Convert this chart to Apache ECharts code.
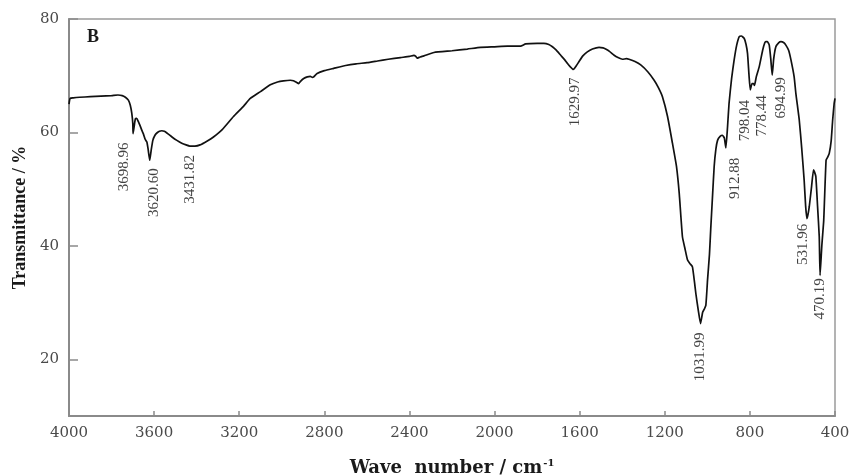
<!DOCTYPE html>
<html>
<head>
<meta charset="utf-8">
<script src="https://cdn.jsdelivr.net/npm/echarts@6/dist/echarts.min.js"></script>
<style>
  html, body { margin: 0; padding: 0; background: #ffffff; }
  #chart { width: 852px; height: 476px; }
</style>
</head>
<body>
<div id="chart"></div>
<script>
// FTIR spectrum, sample B: wave number (cm-1) against transmittance (%)
const wavenumber = [
  4000, 3995, 3980, 3950, 3900, 3850, 3800, 3770, 3750, 3735, 3721, 3712, 3705, 3700,
  3698.96, 3694, 3688, 3682, 3674, 3666, 3658, 3650, 3642, 3634, 3628, 3620.60, 3614,
  3606, 3596, 3587, 3575, 3564, 3552, 3540, 3516, 3493, 3470, 3450, 3431.82, 3408,
  3384, 3350, 3321, 3280, 3227, 3180, 3148, 3100, 3054, 3020, 2992, 2960, 2945, 2930,
  2921, 2912, 2897, 2880, 2866, 2856, 2850, 2834, 2800, 2756, 2700, 2650, 2599, 2550,
  2500, 2442, 2400, 2379, 2370, 2364, 2350, 2332, 2285, 2200, 2128, 2066, 2000, 1940,
  1878, 1854, 1800, 1768, 1745, 1728, 1710, 1689, 1670, 1658, 1645, 1629.97, 1615, 1603,
  1585, 1564, 1540, 1509, 1490, 1478, 1460, 1438, 1420, 1399, 1380, 1368, 1340, 1313,
  1280, 1250, 1230, 1211, 1187, 1164, 1145, 1132, 1117, 1105, 1093, 1080, 1070, 1060,
  1054, 1042, 1031.99, 1022, 1015, 1007, 999, 990, 984, 976, 968, 960, 952, 940, 929,
  920, 912.88, 905, 898, 886, 874, 862, 850, 840, 827, 818, 811, 804, 798.04, 790, 783,
  778.44, 770, 756, 740, 730, 725, 718, 709, 702, 694.99, 688, 678, 665, 654, 640, 631,
  618, 607, 592, 584, 568, 556, 545, 538, 531.96, 527, 521, 510, 501, 496, 490, 482,
  474, 470.19, 462, 453, 442, 435, 427, 418, 411, 404, 400
];
const transmittance = [
  65.0, 66.0, 66.1, 66.2, 66.3, 66.4, 66.5, 66.6, 66.5, 66.2, 65.7, 64.8, 63.4, 61.5,
  59.8, 61.0, 62.4, 62.5, 61.9, 61.2, 60.4, 59.7, 58.8, 58.3, 57.0, 55.1, 56.8,
  58.6, 59.5, 59.9, 60.2, 60.3, 60.2, 59.9, 59.2, 58.6, 58.1, 57.8, 57.6, 57.6,
  57.8, 58.5, 59.2, 60.5, 62.8, 64.6, 66.0, 67.2, 68.4, 68.9, 69.1, 69.2, 69.1, 68.8,
  68.6, 69.0, 69.5, 69.8, 69.9, 69.7, 69.8, 70.4, 70.9, 71.3, 71.8, 72.1, 72.3, 72.6,
  72.9, 73.2, 73.4, 73.6, 73.4, 73.1, 73.3, 73.5, 74.1, 74.4, 74.7, 75.0, 75.1, 75.2,
  75.2, 75.6, 75.7, 75.7, 75.5, 75.1, 74.5, 73.6, 72.8, 72.2, 71.6, 71.1, 71.8, 72.5,
  73.5, 74.2, 74.7, 75.0, 74.9, 74.7, 74.3, 73.6, 73.2, 72.9, 73.0, 72.9, 72.5, 71.9,
  70.7, 69.2, 67.9, 66.3, 62.8, 58.1, 54.0, 49.2, 41.6, 39.5, 37.5, 36.8, 36.3, 33.5,
  31.6, 28.5, 26.3, 28.3, 28.8, 29.5, 34.0, 38.5, 43.0, 48.5, 53.9, 57.0, 58.6, 59.3, 59.5,
  59.0, 57.3, 61.0, 65.1, 69.5, 72.8, 75.4, 76.9, 77.0, 76.6, 75.5, 73.9, 70.0, 67.5, 68.6, 68.6,
  68.3, 69.8, 71.6, 74.5, 75.8, 76.0, 76.0, 75.4, 73.0, 70.1, 73.0, 75.1, 75.8, 76.0, 75.8, 75.4,
  74.5, 72.8, 69.8, 66.9, 62.2, 57.0, 51.6, 47.0, 44.8, 45.5, 46.9, 50.5, 53.4, 53.0, 52.2, 47.0,
  41.6, 34.8, 40.0, 44.5, 55.1, 55.6, 56.3, 58.5, 62.2, 65.1, 66.0
];

// Assigned absorption bands (cm-1)
const peakWavenumbers = [3698.96, 3620.60, 3431.82, 1629.97, 1031.99, 912.88,
                         798.04, 778.44, 694.99, 531.96, 470.19];
// Where each band label sits relative to its minimum, in pixels [right, down]
const peakLabelShift = [[-9, 9], [4, 8], [0, 9], [2, 8], [0, 9], [9, 10],
                        [-5, 10], [8, 10], [9, 2], [-4, 5], [0, 3]];

const yTickValues = [20, 40, 60, 80];

const peakPoints = peakWavenumbers.map((w, i) => ({
  value: [w, transmittance[wavenumber.indexOf(w)]],
  label: {
    position: [peakLabelShift[i][0], peakLabelShift[i][1]]
  }
}));

const axisGray = '#8a8a8a';
const tickFont = 'DejaVu Serif';

const chart = echarts.init(document.getElementById('chart'), null, { renderer: 'canvas' });
chart.setOption({
  backgroundColor: '#ffffff',
  animation: false,
  title: {
    text: 'B',
    left: 87,
    top: 28,
    padding: 0,
    textStyle: { fontFamily: 'Liberation Serif', fontWeight: 'bold', fontSize: 18, color: '#1a1a1a' }
  },
  grid: {
    left: 69, right: 17, top: 19, bottom: 60,
    containLabel: false,
    outerBoundsMode: 'none',
    show: true, borderColor: '#9a9a9a', borderWidth: 1.5, backgroundColor: 'transparent'
  },
  xAxis: {
    type: 'value',
    inverse: true,
    min: 400, max: 4000, interval: 400,
    name: 'Wave  number / cm{sup|-1}',
    nameLocation: 'middle',
    nameGap: 42,
    nameTextStyle: {
      fontFamily: 'DejaVu Serif', fontWeight: 'bold', fontSize: 18, color: '#1a1a1a',
      rich: { sup: { fontFamily: 'DejaVu Serif', fontWeight: 'bold', fontSize: 10, verticalAlign: 'top', padding: [0, 0, 10, 1], color: '#1a1a1a' } }
    },
    axisLine: { lineStyle: { color: axisGray, width: 2 } },
    axisTick: { inside: true, length: 5, lineStyle: { color: axisGray, width: 1.5 } },
    axisLabel: { fontFamily: tickFont, fontSize: 15, color: '#4a4a4a', margin: 10, formatter: v => String(v) },
    splitLine: { show: false }
  },
  yAxis: {
    type: 'value',
    min: 10, max: 80, interval: 10,
    name: 'Transmittance / %',
    nameLocation: 'middle',
    nameRotate: 90,
    nameGap: 38,
    nameTextStyle: { fontFamily: 'Liberation Serif', fontWeight: 'bold', fontSize: 18, color: '#1a1a1a' },
    axisLine: { show: true, lineStyle: { color: axisGray, width: 2 } },
    axisTick: { show: true, inside: true, length: 9, customValues: yTickValues, lineStyle: { color: axisGray, width: 1.5 } },
    axisLabel: { fontFamily: tickFont, fontSize: 15, color: '#4a4a4a', margin: 10, customValues: yTickValues },
    splitLine: { show: false }
  },
  series: [
    {
      type: 'line',
      data: wavenumber.map((w, i) => [w, transmittance[i]]),
      showSymbol: false,
      smooth: 0.15,
      lineStyle: { color: '#111111', width: 1.7 },
      z: 3
    },
    {
      type: 'scatter',
      data: peakPoints,
      symbolSize: 0,
      itemStyle: { color: 'transparent' },
      label: {
        show: true,
        rotate: 90,
        align: 'right',
        verticalAlign: 'middle',
        fontFamily: 'Liberation Serif',
        fontSize: 15,
        color: '#111111',
        formatter: p => p.value[0].toFixed(2)
      },
      z: 4
    }
  ]
});
</script>
</body>
</html>
